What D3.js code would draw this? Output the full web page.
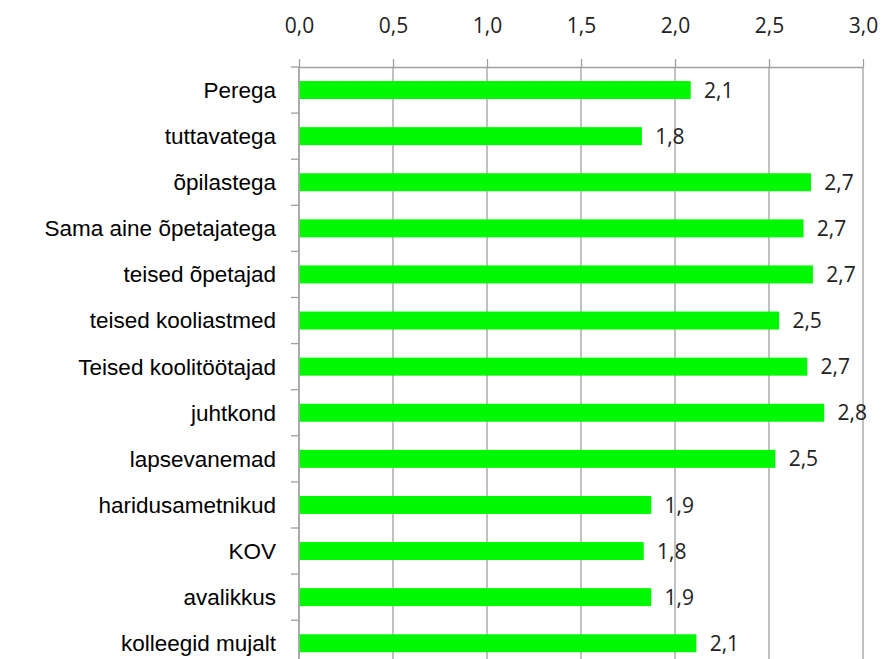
<!DOCTYPE html>
<head>
  <meta charset="utf-8">
  <script src="https://d3js.org/d3.v7.min.js"></script>
  <style>
    body { margin: 0; background: #fff; }
    svg { width: 882px; height: 659px; display: block; }
  </style>
</head>
<body>
  <svg></svg>
  <script>
    var categories = [
      'Perega', 'tuttavatega', 'õpilastega', 'Sama aine õpetajatega',
      'teised õpetajad', 'teised kooliastmed', 'Teised koolitöötajad',
      'juhtkond', 'lapsevanemad', 'haridusametnikud', 'KOV',
      'avalikkus', 'kolleegid mujalt'
    ];
    var values = [2.08, 1.82, 2.72, 2.68, 2.73, 2.55, 2.70, 2.79, 2.53, 1.87, 1.83, 1.87, 2.11];
    var xTicks = [0, 0.5, 1.0, 1.5, 2.0, 2.5, 3.0];

    var margin = {left: 299, top: 67};
    var width = 564;
    var height = 46.1 * categories.length;

    var svg = d3.select('svg')
      .append('g')
      .attr('transform', 'translate(' + [margin.left, margin.top] + ')');

    var x = d3.scaleLinear().domain([0, 3]).range([0, width]);
    var y = d3.scaleBand().domain(categories).range([0, height])
      .paddingInner(0.61).paddingOuter(0.305);

    var fmt = function(v) { return d3.format('.1f')(v).replace('.', ','); };
    var grid = '#a0a0a0';
    var numFont = '"Open Sans", sans-serif';

    // vertical gridlines
    svg.selectAll('line.grid')
      .data(xTicks).enter().append('line')
      .attr('class', 'grid')
      .attr('x1', function(d) { return x(d); })
      .attr('x2', function(d) { return x(d); })
      .attr('y1', 0).attr('y2', height)
      .attr('stroke', grid).attr('stroke-width', 1.3);

    // top axis
    var xAxis = svg.append('g')
      .call(d3.axisTop(x).tickValues(xTicks).tickSize(8).tickSizeOuter(0).tickFormat(fmt));
    xAxis.select('.domain').attr('stroke', grid).attr('stroke-width', 1.3);
    xAxis.selectAll('.tick line').attr('stroke', grid).attr('stroke-width', 1.3);
    xAxis.selectAll('.tick text')
      .attr('y', -34)
      .attr('dy', 0)
      .attr('fill', '#222')
      .style('font-family', numFont)
      .style('font-size', '21px');

    // left axis: line plus ticks between categories
    var bounds = d3.range(categories.length + 1).map(function(i) { return i * y.step(); });
    svg.append('line')
      .attr('x1', 0).attr('x2', 0).attr('y1', 0).attr('y2', height)
      .attr('stroke', grid).attr('stroke-width', 1.3);
    svg.selectAll('line.ytick')
      .data(bounds).enter().append('line')
      .attr('class', 'ytick')
      .attr('x1', -8).attr('x2', 0)
      .attr('y1', function(d) { return d; })
      .attr('y2', function(d) { return d; })
      .attr('stroke', grid).attr('stroke-width', 1.3);

    // category labels
    svg.selectAll('text.cat')
      .data(categories).enter().append('text')
      .attr('class', 'cat')
      .attr('x', -23)
      .attr('y', function(d) { return y(d) + y.bandwidth() / 2; })
      .attr('dy', '0.35em')
      .attr('text-anchor', 'end')
      .attr('fill', '#000')
      .style('font-family', '"Liberation Sans", Arial, sans-serif')
      .style('font-size', '22.5px')
      .text(function(d) { return d; });

    // bars
    svg.selectAll('rect.bar')
      .data(values).enter().append('rect')
      .attr('class', 'bar')
      .attr('x', x(0) + 0.7)
      .attr('y', function(d, i) { return y(categories[i]); })
      .attr('width', function(d) { return x(d) - x(0); })
      .attr('height', y.bandwidth())
      .attr('fill', '#00f800');

    // value labels
    svg.selectAll('text.val')
      .data(values).enter().append('text')
      .attr('class', 'val')
      .attr('x', function(d) { return x(d) + 14; })
      .attr('y', function(d, i) { return y(categories[i]) + y.bandwidth() / 2; })
      .attr('dy', '0.36em')
      .attr('fill', '#222')
      .style('font-family', numFont)
      .style('font-size', '21px')
      .text(fmt);
  </script>
</body>
